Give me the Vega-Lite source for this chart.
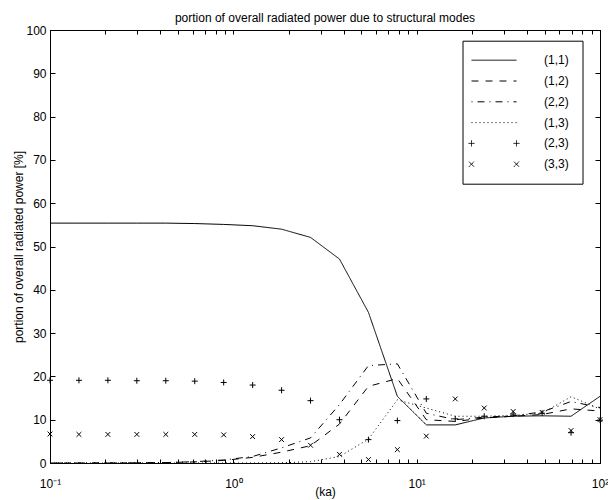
{
  "$schema": "https://vega.github.io/schema/vega-lite/v6.json",
  "width": 550,
  "height": 433,
  "autosize": {"type": "none"},
  "padding": {"left": 50, "top": 30, "right": 8, "bottom": 37},
  "background": "white",
  "title": {"text": "portion of overall radiated power due to structural modes", "fontSize": 12, "fontWeight": "normal", "font": "Liberation Sans", "color": "black", "offset": -1},
  "datasets": {
    "lines": [
      {"ka": 0.1, "series": "(1,1)", "v": 55.4}, {"ka": 0.14384, "series": "(1,1)", "v": 55.4}, {"ka": 0.20691, "series": "(1,1)", "v": 55.4}, {"ka": 0.29764, "series": "(1,1)", "v": 55.4}, {"ka": 0.42813, "series": "(1,1)", "v": 55.4}, {"ka": 0.61585, "series": "(1,1)", "v": 55.3}, {"ka": 0.88587, "series": "(1,1)", "v": 55.1}, {"ka": 1.27427, "series": "(1,1)", "v": 54.8}, {"ka": 1.83298, "series": "(1,1)", "v": 54.0}, {"ka": 2.63665, "series": "(1,1)", "v": 52.1}, {"ka": 3.79269, "series": "(1,1)", "v": 47.1}, {"ka": 5.45559, "series": "(1,1)", "v": 34.8}, {"ka": 7.8476, "series": "(1,1)", "v": 15.4}, {"ka": 11.2884, "series": "(1,1)", "v": 8.8}, {"ka": 16.2378, "series": "(1,1)", "v": 8.8}, {"ka": 23.3572, "series": "(1,1)", "v": 10.4}, {"ka": 33.5982, "series": "(1,1)", "v": 10.8}, {"ka": 48.3293, "series": "(1,1)", "v": 10.9}, {"ka": 69.5193, "series": "(1,1)", "v": 10.8}, {"ka": 100, "series": "(1,1)", "v": 15.4},
      {"ka": 0.1, "series": "(1,2)", "v": 0}, {"ka": 0.14384, "series": "(1,2)", "v": 0}, {"ka": 0.20691, "series": "(1,2)", "v": 0}, {"ka": 0.29764, "series": "(1,2)", "v": 0.05}, {"ka": 0.42813, "series": "(1,2)", "v": 0.1}, {"ka": 0.61585, "series": "(1,2)", "v": 0.25}, {"ka": 0.88587, "series": "(1,2)", "v": 0.6}, {"ka": 1.27427, "series": "(1,2)", "v": 1.3}, {"ka": 1.83298, "series": "(1,2)", "v": 2.5}, {"ka": 2.63665, "series": "(1,2)", "v": 4.0}, {"ka": 3.79269, "series": "(1,2)", "v": 9.0}, {"ka": 5.45559, "series": "(1,2)", "v": 17.7}, {"ka": 7.8476, "series": "(1,2)", "v": 19.5}, {"ka": 11.2884, "series": "(1,2)", "v": 10.0}, {"ka": 16.2378, "series": "(1,2)", "v": 9.6}, {"ka": 23.3572, "series": "(1,2)", "v": 10.4}, {"ka": 33.5982, "series": "(1,2)", "v": 10.8}, {"ka": 48.3293, "series": "(1,2)", "v": 11.2}, {"ka": 69.5193, "series": "(1,2)", "v": 12.5}, {"ka": 100, "series": "(1,2)", "v": 12.0},
      {"ka": 0.1, "series": "(2,2)", "v": 0}, {"ka": 0.14384, "series": "(2,2)", "v": 0}, {"ka": 0.20691, "series": "(2,2)", "v": 0}, {"ka": 0.29764, "series": "(2,2)", "v": 0.05}, {"ka": 0.42813, "series": "(2,2)", "v": 0.1}, {"ka": 0.61585, "series": "(2,2)", "v": 0.3}, {"ka": 0.88587, "series": "(2,2)", "v": 0.7}, {"ka": 1.27427, "series": "(2,2)", "v": 1.5}, {"ka": 1.83298, "series": "(2,2)", "v": 3.5}, {"ka": 2.63665, "series": "(2,2)", "v": 5.8}, {"ka": 3.79269, "series": "(2,2)", "v": 13.5}, {"ka": 5.45559, "series": "(2,2)", "v": 22.5}, {"ka": 7.8476, "series": "(2,2)", "v": 22.9}, {"ka": 11.2884, "series": "(2,2)", "v": 11.5}, {"ka": 16.2378, "series": "(2,2)", "v": 10.0}, {"ka": 23.3572, "series": "(2,2)", "v": 10.6}, {"ka": 33.5982, "series": "(2,2)", "v": 10.9}, {"ka": 48.3293, "series": "(2,2)", "v": 11.8}, {"ka": 69.5193, "series": "(2,2)", "v": 14.2}, {"ka": 100, "series": "(2,2)", "v": 12.8},
      {"ka": 0.1, "series": "(1,3)", "v": 0}, {"ka": 0.14384, "series": "(1,3)", "v": 0}, {"ka": 0.20691, "series": "(1,3)", "v": 0}, {"ka": 0.29764, "series": "(1,3)", "v": 0}, {"ka": 0.42813, "series": "(1,3)", "v": 0}, {"ka": 0.61585, "series": "(1,3)", "v": 0}, {"ka": 0.88587, "series": "(1,3)", "v": 0}, {"ka": 1.27427, "series": "(1,3)", "v": 0}, {"ka": 1.83298, "series": "(1,3)", "v": 0.05}, {"ka": 2.63665, "series": "(1,3)", "v": 0.3}, {"ka": 3.79269, "series": "(1,3)", "v": 1.5}, {"ka": 5.45559, "series": "(1,3)", "v": 5.5}, {"ka": 7.8476, "series": "(1,3)", "v": 14.6}, {"ka": 11.2884, "series": "(1,3)", "v": 12.7}, {"ka": 16.2378, "series": "(1,3)", "v": 10.8}, {"ka": 23.3572, "series": "(1,3)", "v": 10.8}, {"ka": 33.5982, "series": "(1,3)", "v": 11.0}, {"ka": 48.3293, "series": "(1,3)", "v": 11.5}, {"ka": 69.5193, "series": "(1,3)", "v": 15.3}, {"ka": 100, "series": "(1,3)", "v": 12.5}
    ],
    "points": [
      {"ka": 0.1, "series": "(2,3)", "v": 19.1}, {"ka": 0.14384, "series": "(2,3)", "v": 19.1}, {"ka": 0.20691, "series": "(2,3)", "v": 19.1}, {"ka": 0.29764, "series": "(2,3)", "v": 19.0}, {"ka": 0.42813, "series": "(2,3)", "v": 19.0}, {"ka": 0.61585, "series": "(2,3)", "v": 18.9}, {"ka": 0.88587, "series": "(2,3)", "v": 18.6}, {"ka": 1.27427, "series": "(2,3)", "v": 18.0}, {"ka": 1.83298, "series": "(2,3)", "v": 16.8}, {"ka": 2.63665, "series": "(2,3)", "v": 14.4}, {"ka": 3.79269, "series": "(2,3)", "v": 10.0}, {"ka": 5.45559, "series": "(2,3)", "v": 5.4}, {"ka": 7.8476, "series": "(2,3)", "v": 9.8}, {"ka": 11.2884, "series": "(2,3)", "v": 14.8}, {"ka": 16.2378, "series": "(2,3)", "v": 10.2}, {"ka": 23.3572, "series": "(2,3)", "v": 10.8}, {"ka": 33.5982, "series": "(2,3)", "v": 11.3}, {"ka": 48.3293, "series": "(2,3)", "v": 11.5}, {"ka": 69.5193, "series": "(2,3)", "v": 7.0}, {"ka": 100, "series": "(2,3)", "v": 9.9},
      {"ka": 0.1, "series": "(3,3)", "v": 6.7}, {"ka": 0.14384, "series": "(3,3)", "v": 6.6}, {"ka": 0.20691, "series": "(3,3)", "v": 6.6}, {"ka": 0.29764, "series": "(3,3)", "v": 6.6}, {"ka": 0.42813, "series": "(3,3)", "v": 6.6}, {"ka": 0.61585, "series": "(3,3)", "v": 6.6}, {"ka": 0.88587, "series": "(3,3)", "v": 6.5}, {"ka": 1.27427, "series": "(3,3)", "v": 6.1}, {"ka": 1.83298, "series": "(3,3)", "v": 5.4}, {"ka": 2.63665, "series": "(3,3)", "v": 4.1}, {"ka": 3.79269, "series": "(3,3)", "v": 2.0}, {"ka": 5.45559, "series": "(3,3)", "v": 0.8}, {"ka": 7.8476, "series": "(3,3)", "v": 3.1}, {"ka": 11.2884, "series": "(3,3)", "v": 6.2}, {"ka": 16.2378, "series": "(3,3)", "v": 14.8}, {"ka": 23.3572, "series": "(3,3)", "v": 12.7}, {"ka": 33.5982, "series": "(3,3)", "v": 11.9}, {"ka": 48.3293, "series": "(3,3)", "v": 11.7}, {"ka": 69.5193, "series": "(3,3)", "v": 7.5}, {"ka": 100, "series": "(3,3)", "v": 10.0}
    ]
  },
  "layer": [
    {
      "data": {"name": "lines"},
      "mark": {"type": "line", "color": "black", "strokeWidth": 1, "clip": false},
      "encoding": {
        "x": {"field": "ka", "type": "quantitative", "title": "(ka)",
          "scale": {"type": "log", "domain": [0.1, 100], "nice": false},
          "axis": {"orient": "bottom",
            "values": [0.1,0.2,0.3,0.4,0.5,0.6,0.7,0.8,0.9,1,2,3,4,5,6,7,8,9,10,20,30,40,50,60,70,80,90,100],
            "labelExpr": "datum.value == 0.1 ? '10⁻¹' : datum.value == 1 ? '10⁰' : datum.value == 10 ? '10¹' : datum.value == 100 ? '10²' : ''",
            "tickSize": -4,
            "labelPadding": 19, "labelOverlap": false, "labelFlush": false, "labelBound": false, "titlePadding": -3}},
        "y": {"field": "v", "type": "quantitative", "title": "portion of overall radiated power [%]",
          "scale": {"domain": [0, 100], "nice": false},
          "axis": {"orient": "left", "values": [0,10,20,30,40,50,60,70,80,90,100], "tickSize": -5, "labelPadding": 9, "titlePadding": 0}},
        "strokeDash": {"field": "series", "type": "nominal",
          "scale": {"domain": ["(1,1)", "(1,2)", "(2,2)", "(1,3)", "(2,3)", "(3,3)"],
                    "range": [[1,0],[7,7],[1,5,7,5],[1,3],[1,0],[1,0]]},
          "legend": {
            "orient": "none", "legendX": 412.5, "legendY": 10.7, "title": null,
            "strokeColor": "black", "fillColor": "white", "padding": 13, "rowPadding": 7.8,
            "symbolType": "stroke", "symbolSize": 144, "symbolStrokeColor": "black", "symbolStrokeWidth": 1,
            "symbolOffset": 12, "labelOffset": 43.5,
            "labelFont": "Liberation Sans", "labelFontSize": 12, "labelColor": "black",
            "encode": {"symbols": {"update": {
              "shape": {"signal": "datum.value === '(2,3)' ? 'M-4.25,0H-3.25M-3.75,-0.5V0.5M3.25,0H4.25M3.75,-0.5V0.5' : datum.value === '(3,3)' ? 'M-4.17,-0.42L-3.33,0.42M-4.17,0.42L-3.33,-0.42M3.33,-0.42L4.17,0.42M3.33,0.42L4.17,-0.42' : 'M-3.75,0H3.75'"}
            }}}
          }}
      }
    },
    {
      "data": {"name": "points"},
      "mark": {"type": "point", "filled": false, "color": "black", "strokeWidth": 1, "size": 36, "opacity": 1, "clip": false},
      "encoding": {
        "x": {"field": "ka", "type": "quantitative",
          "scale": {"type": "log", "domain": [0.1, 100], "nice": false},
          "axis": {"orient": "top", "title": null, "labels": false,
            "values": [0.1,0.2,0.3,0.4,0.5,0.6,0.7,0.8,0.9,1,2,3,4,5,6,7,8,9,10,20,30,40,50,60,70,80,90,100],
            "tickSize": -4}},
        "y": {"field": "v", "type": "quantitative",
          "scale": {"domain": [0, 100], "nice": false},
          "axis": {"orient": "right", "title": null, "labels": false, "values": [0,10,20,30,40,50,60,70,80,90,100], "tickSize": -5}},
        "shape": {"field": "series", "type": "nominal",
          "scale": {"domain": ["(2,3)", "(3,3)"], "range": ["M-1,0H1M0,-1V1", "M-0.8,-0.8L0.8,0.8M-0.8,0.8L0.8,-0.8"]},
          "legend": null}
      }
    }
  ],
  "resolve": {"axis": {"x": "independent", "y": "independent"}},
  "config": {
    "font": "Liberation Sans",
    "view": {"stroke": "black", "strokeWidth": 1},
    "axis": {"domainColor": "black", "domainWidth": 1, "tickColor": "black", "tickWidth": 1, "labelColor": "black", "titleColor": "black",
             "labelFont": "Liberation Sans", "titleFont": "Liberation Sans", "labelFontSize": 12, "titleFontSize": 12, "titleFontWeight": "normal", "grid": false}
  }
}
